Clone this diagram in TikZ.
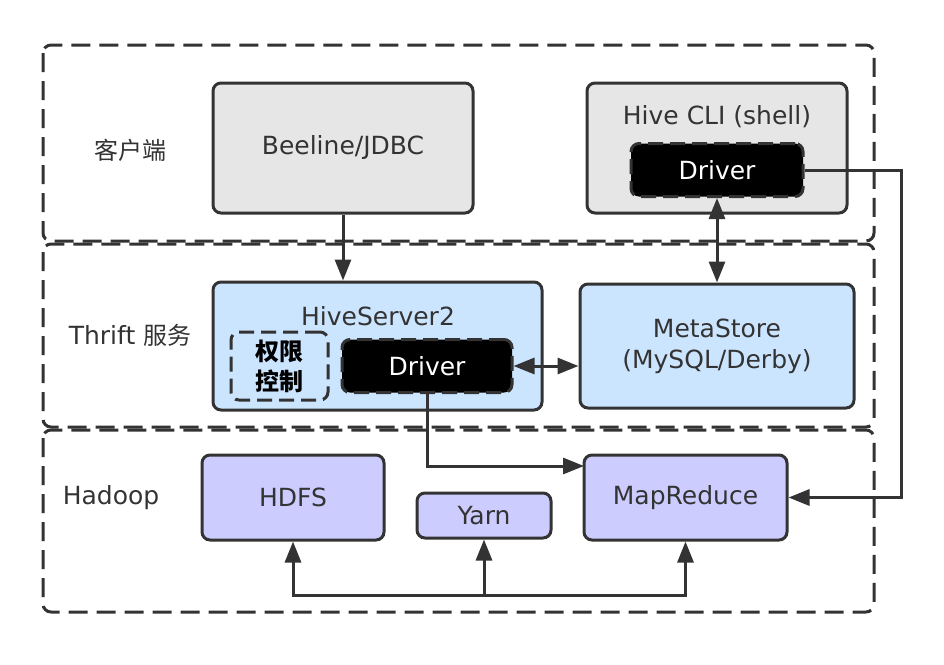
\documentclass[tikz,border=0pt]{standalone}
\usepackage{fontspec}
\setmainfont{DejaVu Sans}
\newfontfamily\cjk[Scale=0.96]{Noto Sans CJK SC}
\usepackage{tikz}
\usetikzlibrary{arrows.meta}

\definecolor{ink}{HTML}{333333}
\definecolor{clientgray}{HTML}{E6E6E6}
\definecolor{thriftblue}{HTML}{CCE5FF}
\definecolor{hadooppurple}{HTML}{CCCCFF}

\tikzset{
	layer/.style = {draw=ink, line width=3pt, rounded corners=8pt, dash pattern=on 19pt off 9pt},
	box/.style = {draw=ink, line width=3pt, rounded corners=8pt, text=ink, inner sep=0pt,
		font=\fontsize{25}{31}\selectfont, align=center},
	drv/.style = {box, fill=black, text=white, dash pattern=on 15pt off 7pt},
	tag/.style = {text=ink, inner sep=0pt, font=\fontsize{25}{30}\selectfont, align=center},
	flow/.style = {draw=ink, line width=3pt},
	>={Triangle[length=21pt,width=16pt]}
}

\begin{document}
\begin{tikzpicture}[x=1pt, y=-1pt]
		\useasboundingbox (0, 0) rectangle (944, 664);
		% three layers
		\draw [layer] (43, 45) rectangle (874, 241);
		\draw [layer] (43, 244) rectangle (874, 427);
		\draw [layer] (43, 430) rectangle (874, 612);
		\node [tag] (clientTag) at (130, 150) {\cjk 客户端};
		\node [tag] (thriftTag) at (130, 335) {Thrift \cjk 服务};
		\node [tag] (hadoopTag) at (111, 498) {Hadoop};

		% client
		\node [box, fill=clientgray, minimum width=260, minimum height=130] (beeline) at (343, 148) {Beeline/JDBC};
		\node [box, fill=clientgray, minimum width=260, minimum height=130] (cli) at (717, 148) {};
		\node [tag] (cliName) at (717, 117) {Hive CLI (shell)};
		\node [drv, minimum width=172, minimum height=53] (cliDriver) at (717, 170) {Driver};

		% thrift
		\node [box, fill=thriftblue, minimum width=329, minimum height=128] (hs2) at (377.5, 346) {};
		\node [tag] (hs2Name) at (378, 316) {HiveServer2};
		\node [box, dash pattern=on 15pt off 7pt, minimum width=97, minimum height=68,
			font=\cjk\bfseries\fontsize{25}{30}\selectfont, text=black] (auth) at (279.5, 366) {权限\\控制};
		\node [drv, minimum width=170, minimum height=53] (hs2Driver) at (427, 366) {Driver};
		\node [box, fill=thriftblue, minimum width=274, minimum height=124] (meta) at (717, 346) {MetaStore\\(MySQL/Derby)};

		% hadoop
		\node [box, fill=hadooppurple, minimum width=182, minimum height=85] (hdfs) at (293, 497.5) {HDFS};
		\node [box, fill=hadooppurple, minimum width=134, minimum height=45] (yarn) at (484, 515.5) {Yarn};
		\node [box, fill=hadooppurple, minimum width=203, minimum height=85] (mr) at (685.5, 497.5) {MapReduce};

		% connectors
		\coordinate (mrIn) at (584, 466);
		\coordinate (rail) at (901, 0);
		\coordinate (bus) at (0, 595);
		\draw [flow, ->] (beeline.south) -- (beeline.south |- hs2.north);
		\draw [flow, <->] (cliDriver.south) -- (meta.north);
		\draw [flow, <->] (hs2Driver.east) -- (hs2Driver.east -| meta.west);
		\draw [flow, ->] (hs2Driver.south) |- (mrIn);
		\draw [flow, ->] (cliDriver.east) -- (cliDriver.east -| rail) |- (mr.east);
		\draw [flow, <->] (hdfs.south) -- (hdfs.south |- bus) -- (mr.south |- bus) -- (mr.south);
		\draw [flow, ->] (yarn.south |- bus) -- (yarn.south);
	\end{tikzpicture}
\end{document}
